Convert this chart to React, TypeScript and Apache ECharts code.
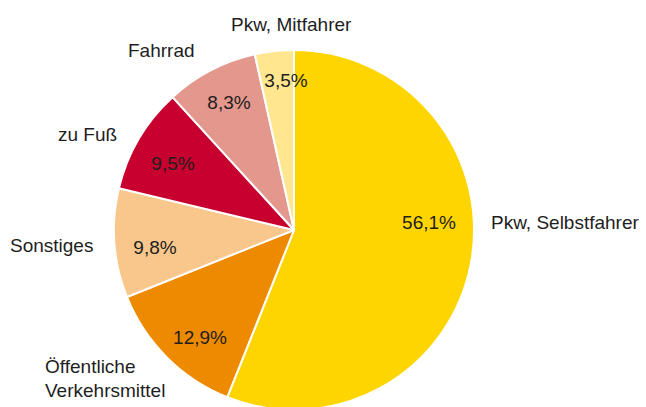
import React, { useEffect, useRef } from "react";
import * as echarts from "echarts";

const categories = [
  "Pkw, Selbstfahrer",
  "Öffentliche\nVerkehrsmittel",
  "Sonstiges",
  "zu Fuß",
  "Fahrrad",
  "Pkw, Mitfahrer",
];
const shares = [56.1, 12.9, 9.8, 9.5, 8.3, 3.5];
const colors = ["#FFD500", "#EE8A00", "#F9C68C", "#C8002F", "#E4978C", "#FFE68F"];

// label anchors (layout, not data): name labels (left edge, vertical middle)
const nameLabelPos: [number, number][] = [
  [491, 222],
  [45, 378],
  [10, 245],
  [58, 134],
  [128, 50],
  [231, 24],
];
// percent labels (centre)
const pctLabelPos: [number, number][] = [
  [429, 222],
  [200, 337],
  [155, 247],
  [173, 163],
  [229, 102],
  [286, 80],
];

const FONT = "Liberation Sans, Arial, sans-serif";
const fmt = (v: number) => v.toFixed(1).replace(".", ",") + "%";

export default function App() {
  const ref = useRef<HTMLDivElement>(null);
  useEffect(() => {
    document.body.style.margin = "0";
    const chart = echarts.init(ref.current!, undefined, { renderer: "svg" });
    const data = categories.map((c, i) => ({
      name: c,
      value: shares[i],
      itemStyle: { color: colors[i] },
    }));
    chart.setOption({
      animation: false,
      textStyle: { fontFamily: FONT },
      series: [
        {
          type: "pie",
          center: [294, 230],
          radius: [0, 180],
          startAngle: 90,
          clockwise: true,
          silent: true,
          data,
          itemStyle: { borderColor: "#ffffff", borderWidth: 2 },
          label: {
            show: true,
            position: "inside",
            formatter: "{b}",
            color: "#1e1e1e",
            fontSize: 19,
            lineHeight: 24,
            fontFamily: FONT,
            overflow: "none",
          },
          labelLine: { show: false },
          labelLayout: (p: any) => ({
            x: nameLabelPos[p.dataIndex][0],
            y: nameLabelPos[p.dataIndex][1],
            align: "left",
            verticalAlign: "middle",
          }),
        },
        {
          type: "pie",
          center: [294, 230],
          radius: [0, 180],
          startAngle: 90,
          clockwise: true,
          silent: true,
          z: 3,
          data: categories.map((c, i) => ({
            name: c,
            value: shares[i],
            itemStyle: { color: "transparent" },
          })),
          label: {
            show: true,
            position: "inside",
            formatter: (p: any) => fmt(p.value),
            color: "#1e1e1e",
            fontSize: 19,
            fontFamily: FONT,
            overflow: "none",
          },
          labelLine: { show: false },
          labelLayout: (p: any) => ({
            x: pctLabelPos[p.dataIndex][0],
            y: pctLabelPos[p.dataIndex][1],
            align: "center",
            verticalAlign: "middle",
          }),
        },
      ],
    });
    return () => chart.dispose();
  }, []);
  return <div ref={ref} style={{ width: 646, height: 407 }} />;
}
